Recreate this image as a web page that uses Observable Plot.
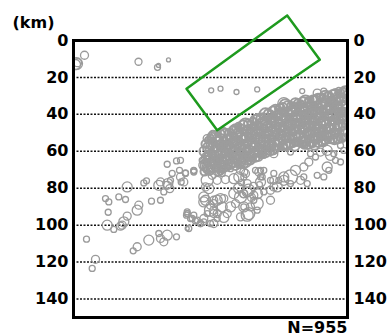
<!DOCTYPE html>
<html>
<head>
<meta charset="utf-8">
<script src="https://cdn.jsdelivr.net/npm/d3@7"></script>
<script src="https://cdn.jsdelivr.net/npm/@observablehq/plot@0.6"></script>
<style>
  html, body { margin: 0; padding: 0; background: #fff; }
  #chart svg { font-family: "DejaVu Sans", sans-serif; font-weight: bold; }
</style>
</head>
<body>
<div id="chart"></div>
<script>
// depth ticks (km)
const depthTicks = [0, 20, 40, 60, 80, 100, 120, 140];
const gridDepths = [20, 40, 60, 80, 100, 120, 140];
const totalCount = "N=955";
const unitLabel = "(km)";

// [distance, depth km, symbol radius]
const shallowQuakes = [
  [3,12.5,6],[2,13,5],[4,12,4],[11,8,4],[65,11.5,3.5],[84,14.5,3],[85,13.5,2],[95,10.5,2]
];

const boxQuakes = [
  [137.7,27,2.5],[147,26.1,2.5],[163,27.9,2.5],[183.7,26.5,2.5],[228.7,27.4,2.5],
  [243.7,28.5,4],[250.3,27.4,3],[265.3,26.7,2.5],[270,26.7,2.5],
  [210.3,34.2,6],[227,34.2,3],[240.3,32.8,5],[257,32.4,4],[165,46,3],[162,48,3],[137.7,52,4]
];

const bandQuakes = [
  [132,56,4],[131,60,5],[133,64,3],[132,68,5],[131,71,4],
  [137,52.5,3],[138,56,5],[136,59.5,4],[137,63,6],[138,66.5,3],[136,70,5],
  [142,52,5],[141,55.5,3],[143,59,6],[142,62.5,4],[141,66,5],[143,69.5,3],
  [147,50.5,4],[148,54,6],[146,57.5,3],[147,61,5],[148,64.5,4],[146,68,6],[147,71,3],
  [152,51,6],[151,54.5,4],[153,58,5],[152,61.5,3],[151,65,6],[153,68.5,4],
  [157,49.5,3],[158,53,5],[156,56.5,4],[157,60,6],[158,63.5,3],[156,67,5],
  [162,48,5],[161,51.5,3],[163,55,6],[162,58.5,4],[161,62,5],[163,65.5,3],[162,68,4],
  [167,47.5,4],[168,51,6],[166,54.5,3],[167,58,5],[168,61.5,4],[166,65,6],[167,67.5,3],
  [172,45.5,6],[171,49,4],[173,52.5,5],[172,56,3],[171,59.5,6],[173,63,4],[172,66,5],
  [177,45,3],[178,48.5,5],[176,52,4],[177,55.5,6],[178,59,3],[176,62.5,5],[177,65,4],
  [182,43,5],[181,46.5,3],[183,50,6],[182,53.5,4],[181,57,5],[183,60.5,3],[182,63.5,4],
  [187,42,4],[188,45.5,6],[186,49,3],[187,52.5,5],[188,56,4],[186,59.5,6],[187,62,3],
  [192,40,6],[191,43.5,4],[193,47,5],[192,50.5,3],[191,54,6],[193,57.5,4],[192,60.5,5],
  [197,39.5,3],[198,43,5],[196,46.5,4],[197,50,6],[198,53.5,3],[196,57,5],[197,60,4],
  [202,37.5,5],[201,41,3],[203,44.5,6],[202,48,4],[201,51.5,5],[203,55,3],[202,58.5,4],
  [207,36.5,4],[208,40,6],[206,43.5,3],[207,47,5],[208,50.5,4],[206,54,6],[207,57.5,3],
  [212,35,6],[211,38.5,4],[213,42,5],[212,45.5,3],[211,49,6],[213,52.5,4],[212,56,5],[211,58,3],
  [217,35,3],[218,38.5,5],[216,42,4],[217,45.5,6],[218,49,3],[216,52.5,5],[217,56,4],
  [222,34,5],[221,37.5,3],[223,41,6],[222,44.5,4],[221,48,5],[223,51.5,3],[222,55,4],[221,57,5],
  [227,34.5,4],[228,38,6],[226,41.5,3],[227,45,5],[228,48.5,4],[226,52,6],[227,55.5,3],
  [232,33,6],[231,36.5,4],[233,40,5],[232,43.5,3],[231,47,6],[233,50.5,4],[232,54,5],[231,57,3],
  [237,32,3],[238,35.5,5],[236,39,4],[237,42.5,6],[238,46,3],[236,49.5,5],[237,53,4],[238,56,3],
  [242,32.5,5],[241,36,3],[243,39.5,6],[242,43,4],[241,46.5,5],[243,50,3],[242,53.5,4],[241,56.5,5],
  [247,31,4],[248,34.5,6],[246,38,3],[247,41.5,5],[248,45,4],[246,48.5,6],[247,52,3],[248,55,4],
  [252,30.5,6],[251,34,4],[253,37.5,5],[252,41,3],[251,44.5,6],[253,48,4],[252,51.5,5],[251,54.5,3],
  [257,30,3],[258,33.5,5],[256,37,4],[257,40.5,6],[258,44,3],[256,47.5,5],[257,51,4],[258,54,3],
  [262,29,5],[261,32.5,3],[263,36,6],[262,39.5,4],[261,43,5],[263,46.5,3],[262,50,4],[261,53.5,5],
  [267,28.5,4],[268,32,6],[266,35.5,3],[267,39,5],[268,42.5,4],[266,46,6],[267,49.5,3],[268,53,4],
  [272,28,6],[271,31.5,4],[273,35,5],[272,38.5,3],[271,42,6],[273,45.5,4],[272,49,5],[271,52.5,3]
];

const bandQuakes2 = [
  [134.5,54,3],[134.5,58,5],[134.5,62,4],[134.5,66,3],[134.5,69.5,5],
  [139.5,51,4],[139.5,54.5,3],[139.5,58,5],[139.5,61.5,3],[139.5,65,4],[139.5,68.5,5],
  [144.5,50.5,3],[144.5,54,4],[144.5,57.5,5],[144.5,61,3],[144.5,64.5,4],[144.5,68,3],[144.5,70.5,5],
  [149.5,50,5],[149.5,53.5,3],[149.5,57,4],[149.5,60.5,5],[149.5,64,3],[149.5,67.5,4],[149.5,70,3],
  [154.5,50,3],[154.5,53.5,5],[154.5,57,4],[154.5,60.5,3],[154.5,64,5],[154.5,67,4],
  [159.5,48.5,4],[159.5,52,3],[159.5,55.5,5],[159.5,59,4],[159.5,62.5,3],[159.5,66,5],
  [164.5,47,3],[164.5,50.5,5],[164.5,54,4],[164.5,57.5,3],[164.5,61,5],[164.5,64.5,4],[164.5,67,3],
  [169.5,46,5],[169.5,49.5,3],[169.5,53,4],[169.5,56.5,5],[169.5,60,3],[169.5,63.5,4],[169.5,66.5,5],
  [174.5,45,4],[174.5,48.5,5],[174.5,52,3],[174.5,55.5,4],[174.5,59,5],[174.5,62.5,3],[174.5,65,4],
  [179.5,43.5,3],[179.5,47,4],[179.5,50.5,5],[179.5,54,3],[179.5,57.5,4],[179.5,61,5],[179.5,64,3],
  [184.5,42.5,5],[184.5,46,3],[184.5,49.5,4],[184.5,53,5],[184.5,56.5,3],[184.5,60,4],[184.5,62.5,5],
  [189.5,41,3],[189.5,44.5,5],[189.5,48,4],[189.5,51.5,3],[189.5,55,5],[189.5,58.5,4],[189.5,61,3],
  [194.5,39.5,4],[194.5,43,3],[194.5,46.5,5],[194.5,50,4],[194.5,53.5,3],[194.5,57,5],[194.5,59.5,4],
  [199.5,38.5,5],[199.5,42,4],[199.5,45.5,3],[199.5,49,5],[199.5,52.5,4],[199.5,56,3],[199.5,59,5],
  [204.5,37,3],[204.5,40.5,5],[204.5,44,4],[204.5,47.5,3],[204.5,51,5],[204.5,54.5,4],[204.5,58,3],
  [209.5,36,4],[209.5,39.5,3],[209.5,43,5],[209.5,46.5,4],[209.5,50,3],[209.5,53.5,5],[209.5,57,4],
  [214.5,35.5,5],[214.5,39,4],[214.5,42.5,3],[214.5,46,5],[214.5,49.5,4],[214.5,53,3],[214.5,56.5,5],
  [219.5,35,3],[219.5,38.5,5],[219.5,42,4],[219.5,45.5,3],[219.5,49,5],[219.5,52.5,4],[219.5,56,3],
  [224.5,34,4],[224.5,37.5,3],[224.5,41,5],[224.5,44.5,4],[224.5,48,3],[224.5,51.5,5],[224.5,55,4],
  [229.5,33.5,5],[229.5,37,4],[229.5,40.5,3],[229.5,44,5],[229.5,47.5,4],[229.5,51,3],[229.5,54.5,5],[229.5,56.5,3],
  [234.5,32.5,3],[234.5,36,5],[234.5,39.5,4],[234.5,43,3],[234.5,46.5,5],[234.5,50,4],[234.5,53.5,3],[234.5,56,5],
  [239.5,32,4],[239.5,35.5,3],[239.5,39,5],[239.5,42.5,4],[239.5,46,3],[239.5,49.5,5],[239.5,53,4],[239.5,56,3],
  [244.5,31.5,5],[244.5,35,4],[244.5,38.5,3],[244.5,42,5],[244.5,45.5,4],[244.5,49,3],[244.5,52.5,5],[244.5,55.5,4],
  [249.5,30.5,3],[249.5,34,5],[249.5,37.5,4],[249.5,41,3],[249.5,44.5,5],[249.5,48,4],[249.5,51.5,3],[249.5,54.5,5],
  [254.5,30,4],[254.5,33.5,3],[254.5,37,5],[254.5,40.5,4],[254.5,44,3],[254.5,47.5,5],[254.5,51,4],[254.5,54,3],
  [259.5,29.5,5],[259.5,33,4],[259.5,36.5,3],[259.5,40,5],[259.5,43.5,4],[259.5,47,3],[259.5,50.5,5],[259.5,53.5,4],
  [264.5,28.5,3],[264.5,32,5],[264.5,35.5,4],[264.5,39,3],[264.5,42.5,5],[264.5,46,4],[264.5,49.5,3],[264.5,53,5],
  [269.5,28,4],[269.5,31.5,3],[269.5,35,5],[269.5,38.5,4],[269.5,42,3],[269.5,45.5,5],[269.5,49,4],[269.5,52.5,3]
];

const lowerQuakes = [
  [93.7,67,3],[103,65.2,3],[98.7,72,3],[106,70.3,3],[70.3,77.1,3],[73,76,3],[53.7,79.3,5],
  [85.3,78.4,5],[93.7,78.4,4],[96.3,80.2,4],[90.3,82,3],[32,85.6,3],[35.3,87.4,3],[45.3,84.7,3],
  [52,86.1,3],[65.3,89.2,4],[63.7,91.9,5],[78,87,3],[87,86.5,3],[34.7,93,3],[53.7,95.1,4],
  [50.3,98.2,5],[47,100.5,4],[33.7,100,5],[40.3,102.3,3],[13,107.6,3],[75.3,108.1,5],
  [63.7,111.7,4],[59.7,113.9,3],[85.3,104.5,3],[93.7,105.4,5],[90.3,109,4],[103,106.3,3],
  [87,107.2,4],[22,118.5,4],[18.7,123.4,3],[48.7,100,4],[113,94.6,3],[115.3,101.8,3],
  [122,97.7,3],[127,99.1,3],[128.7,64.9,3],[120.3,70.6,3],[112,71.7,3],[133.7,68.5,5],
  [87,76.6,4],[94.3,77.5,5],[107,73.9,4],[107.7,76.6,3],[113.7,93.7,3],[117,96.4,3],
  [133.7,75.7,6],[130.3,84.7,5],[140.3,88.3,4],
  [130.3,64.5,3],[137,66.6,5],[143.7,64.9,4],[107,64.9,3],[120.3,70.3,3],[110.3,76.6,4],
  [97,75.7,3],[135.3,80.2,5],[143.7,75.7,4],[148.7,72,3],[152,75.3,4],[160.3,74.8,5],
  [157,69.4,3],[173.7,77.5,4],[167,70.3,4],
  [165,80,5],[170,83,4],[175,81,6],[180,79,4],[184,83,5],[168,77,3],[178,85,4],[186,78,3],
  [130.3,87.4,5],[140.3,86.5,4],[150.3,85.6,4],[137,91.9,6],[143.7,93.7,4],[113.7,92.8,3],
  [118.7,96.4,3],[123.7,97.3,3],[130.3,96.4,4],[150.3,95.8,5],[175.3,93.7,6],[177,90.1,4],
  [140.3,99.1,4],
  [132,63.1,4],[133.7,66.6,3],[137,70.3,4],[167,66.6,5],[170.3,71.2,4],[170.3,73.9,3],
  [187,70.3,3],[188.7,73.9,3],[200.3,72,3],[222,70.3,5],[210.3,75.7,5],[217,73.9,7],
  [227,75.7,4],[230.3,73.9,3],[235.3,65.8,4],[242,63.1,3],[247,60.4,4],[253.7,59.5,5],
  [257,62.2,5],[262,64.9,3],[267,56.8,3],[253.7,68.5,5],[255.3,70.3,3],[243.7,73,3],
  [250.3,73.9,3],[217,77.5,3],[233.7,77.5,3],[170.3,82.9,4],[180.3,86.5,3],[132,79.3,4],
  [147,85.6,5],[157,90.1,5],[167,95.5,4],[140.3,93.7,4],[200.3,79.3,4],[197,75.7,3],
  [205.3,75.7,3],[170.3,90.1,3],[183.7,91.9,3],
  [190.3,62.2,3],[200.3,61.3,4],[217,60.4,3],[237,61.3,3],[260.3,61.3,3],[270.3,59.5,3],
  [267,65.8,3],[230.3,68.5,4],[182,70.3,3],[190.3,70.3,3],[187,73.9,3],[133.7,53.1,4],[137,54,3]
];

const clusterQuakes = [
  [112,72,3],[120.3,71.2,3],[138.7,73,4],[130.3,67.6,5],[140.3,66.6,4],[157,66.6,5],
  [150.3,65.8,4],[165.3,73.9,5],[172,72,4],[185.3,71.2,4],[187,76.6,5],[200.3,75.7,4],
  [210.3,73.9,5],[160.3,82.9,5],[167,84.7,6],[173.7,82,5],[180.3,83.8,4],[183.7,88.3,6],
  [170.3,90.1,5],[173.7,94.6,6],[162,88.3,4],[197,81.1,4],[203.7,79.3,5],[197,86.5,4],
  [190.3,82,3],[132,86.5,5],[137,89.2,4],[143.7,86.5,5],[148.7,90.1,5],[140.3,91.9,4],
  [133.7,93.7,3],[153.7,93.7,4],[143.7,96.4,3],[130.3,98.2,3],[120.3,94.6,3],[113.7,93.7,3],
  [113.7,101.8,2],[127,99.1,3],[137,99.1,3]
];

// green outline box corners [distance, depth]
const boxCorners = [[213.7,-13.5],[246.3,10.4],[143.7,48.6],[113,26.1],[213.7,-13.5]];

const sparse = [...shallowQuakes, ...boxQuakes, ...lowerQuakes, ...clusterQuakes];
const band = [...bandQuakes, ...bandQuakes2];

const chart = Plot.plot({
  width: 390,
  height: 336,
  marginTop: 40,
  marginBottom: 19,
  marginLeft: 73,
  marginRight: 43,
  style: { fontSize: "16px", fontFamily: "DejaVu Sans, sans-serif", fontWeight: "bold", color: "black", background: "white" },
  x: { domain: [0, 274], axis: null },
  y: { domain: [0, 150], reverse: true, axis: null },
  r: { type: "identity" },
  marks: [
    Plot.ruleY(gridDepths, { stroke: "#111", strokeWidth: 1.5, strokeDasharray: "2,1.5" }),
    Plot.dot(sparse, { x: d => d[0], y: d => d[1], r: d => d[2], stroke: "#9a9a9a", fill: "none", strokeWidth: 1.3, clip: true }),
    Plot.dot(band, { x: d => d[0], y: d => d[1], r: d => d[2], stroke: "#9c9c9c", fill: "none", strokeWidth: 2, clip: true }),
    Plot.frame({ stroke: "black", strokeWidth: 3 }),
    Plot.line(boxCorners, { x: d => d[0], y: d => d[1], stroke: "#1e9a1e", strokeWidth: 2.5, clip: false }),
    Plot.axisY(depthTicks, { anchor: "left", tickSize: 0, tickPadding: 5, label: null, fontSize: 16 }),
    Plot.axisY(depthTicks, { anchor: "right", tickSize: 0, tickPadding: 6, label: null, fontSize: 16 }),
    Plot.text([unitLabel], { frameAnchor: "top-left", dx: -61, dy: -17.5, lineAnchor: "middle", textAnchor: "start", fontSize: 16 }),
    Plot.text([totalCount], { frameAnchor: "bottom-right", dx: 0, dy: 10.5, lineAnchor: "middle", textAnchor: "end", fontSize: 16 })
  ]
});
document.getElementById("chart").appendChild(chart);
</script>
</body>
</html>
